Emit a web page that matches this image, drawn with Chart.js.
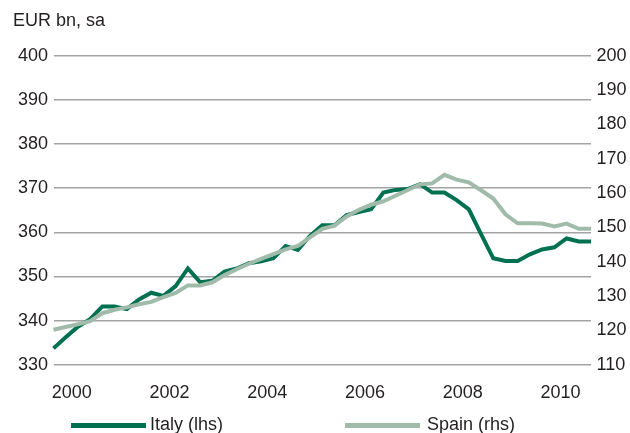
<!DOCTYPE html>
<html>
<head>
<meta charset="utf-8">
<script src="https://cdn.jsdelivr.net/npm/chart.js@4.4.0/dist/chart.umd.min.js"></script>
<style>
  html, body { margin: 0; padding: 0; background: #fff; }
  #wrap { position: relative; width: 630px; height: 433px; font-family: 'Liberation Sans', Arial, sans-serif; color: #231f20; }
  #wrap canvas { position: absolute; left: 0; top: 0; }
  #unit { position: absolute; left: 13px; top: 11px; font-size: 18px; line-height: 18px; }
  .key { position: absolute; top: 415px; font-size: 18px; line-height: 18px; white-space: nowrap; }
  .swatch { position: absolute; top: 423px; height: 5px; }
</style>
</head>
<body>
<div id="wrap">
  <canvas id="lineChart" width="630" height="433"></canvas>
  <div id="unit">EUR bn, sa</div>
  <div id="legend"></div>
</div>
<script>
// quarterly, 2000Q1 - 2011Q1
var quarters = [
    '2000Q1', '2000Q2', '2000Q3', '2000Q4', '2001Q1', '2001Q2', '2001Q3', '2001Q4',
    '2002Q1', '2002Q2', '2002Q3', '2002Q4', '2003Q1', '2003Q2', '2003Q3', '2003Q4',
    '2004Q1', '2004Q2', '2004Q3', '2004Q4', '2005Q1', '2005Q2', '2005Q3', '2005Q4',
    '2006Q1', '2006Q2', '2006Q3', '2006Q4', '2007Q1', '2007Q2', '2007Q3', '2007Q4',
    '2008Q1', '2008Q2', '2008Q3', '2008Q4', '2009Q1', '2009Q2', '2009Q3', '2009Q4',
    '2010Q1', '2010Q2', '2010Q3', '2010Q4', '2011Q1'
];
var yearTicks = ['2000', '2002', '2004', '2006', '2008', '2010'];

// Italy, EUR bn (left axis)
var italy = [
    333.7, 336.2, 338.6, 340.3, 343.2, 343.2, 342.6, 344.8,
    346.3, 345.6, 347.8, 351.8, 348.7, 349.0, 351.1, 351.8,
    353.0, 353.4, 354.1, 356.9, 356.0, 359.2, 361.6, 361.6,
    363.9, 364.6, 365.2, 369.0, 369.6, 369.8, 370.9, 369.0,
    369.0, 367.3, 365.2, 359.6, 354.1, 353.5, 353.5, 355.0,
    356.1, 356.6, 358.6, 357.9, 357.9
];
// Spain, EUR bn (right axis)
var spain = [
    120.2, 121.0, 121.8, 122.7, 125.0, 126.0, 126.7, 127.6,
    128.3, 129.7, 130.9, 133.1, 133.1, 134.0, 136.1, 137.8,
    139.4, 140.8, 142.2, 143.6, 144.6, 147.1, 149.6, 150.5,
    153.2, 155.1, 156.6, 157.6, 159.2, 160.9, 162.5, 162.8,
    165.3, 163.9, 163.1, 160.8, 158.4, 153.8, 151.2, 151.2,
    151.1, 150.3, 151.1, 149.6, 149.6
];

var leftMin = 330, leftMax = 400;
var rightMin = 110, rightMax = 200;

var italyColor = '#007150';
var spainColor = '#a0bba9';
var gridColor = '#a3a3a3';
var textColor = '#231f20';
var font = { family: "'Liberation Sans', Arial, sans-serif", size: 18 };

var ctx = document.getElementById('lineChart').getContext('2d');
var lineChart = new Chart(ctx, {
    type: 'line',
    data: {
        labels: quarters,
        datasets: [{
            label: 'Italy (lhs)',
            data: italy,
            yAxisID: 'y',
            borderColor: italyColor,
            backgroundColor: italyColor,
            borderWidth: 4,
            pointRadius: 0,
            tension: 0,
            order: 2
        }, {
            label: 'Spain (rhs)',
            data: spain,
            yAxisID: 'y1',
            borderColor: spainColor,
            backgroundColor: spainColor,
            borderWidth: 4,
            pointRadius: 0,
            tension: 0,
            order: 1
        }]
    },
    options: {
        responsive: false,
        animation: false,
        events: [],
        layout: { padding: { top: 55.7, bottom: 0, left: 0, right: 0 } },
        plugins: {
            legend: { display: false },
            tooltip: { enabled: false }
        },
        scales: {
            x: {
                grid: { display: false, drawTicks: false },
                border: { display: false },
                afterFit: function (scale) { scale.height = 433 - 364.7; },
                ticks: {
                    autoSkip: false,
                    maxRotation: 0,
                    padding: 17.5,
                    labelOffset: -6.1,
                    color: textColor,
                    font: font,
                    callback: function (val, idx) {
                        var q = quarters[idx];
                        var yr = q.slice(0, 4);
                        return (q.slice(4) === 'Q3' && yearTicks.indexOf(yr) >= 0) ? yr : null;
                    }
                }
            },
            y: {
                position: 'left',
                min: leftMin,
                max: leftMax,
                afterFit: function (scale) { scale.width = 53.5; },
                grid: { color: gridColor, lineWidth: 1.5, drawTicks: false },
                border: { display: false },
                ticks: { stepSize: 10, padding: 5.5, color: textColor, font: font }
            },
            y1: {
                position: 'right',
                min: rightMin,
                max: rightMax,
                afterFit: function (scale) { scale.width = 39; },
                grid: { display: false, drawTicks: false },
                border: { display: false },
                ticks: { stepSize: 10, padding: 5.5, color: textColor, font: font }
            }
        }
    }
});

// legend, laid out like the original (swatch + label)
var legendPos = [{ swatch: 70.7, width: 75.3, text: 150 }, { swatch: 345, width: 75, text: 427 }];
var legend = document.getElementById('legend');
lineChart.data.datasets.forEach(function (ds, i) {
    var sw = document.createElement('div');
    sw.className = 'swatch';
    sw.style.left = legendPos[i].swatch + 'px';
    sw.style.width = legendPos[i].width + 'px';
    sw.style.background = ds.borderColor;
    legend.appendChild(sw);
    var lab = document.createElement('div');
    lab.className = 'key';
    lab.style.left = legendPos[i].text + 'px';
    lab.textContent = ds.label;
    legend.appendChild(lab);
});
</script>
</body>
</html>
